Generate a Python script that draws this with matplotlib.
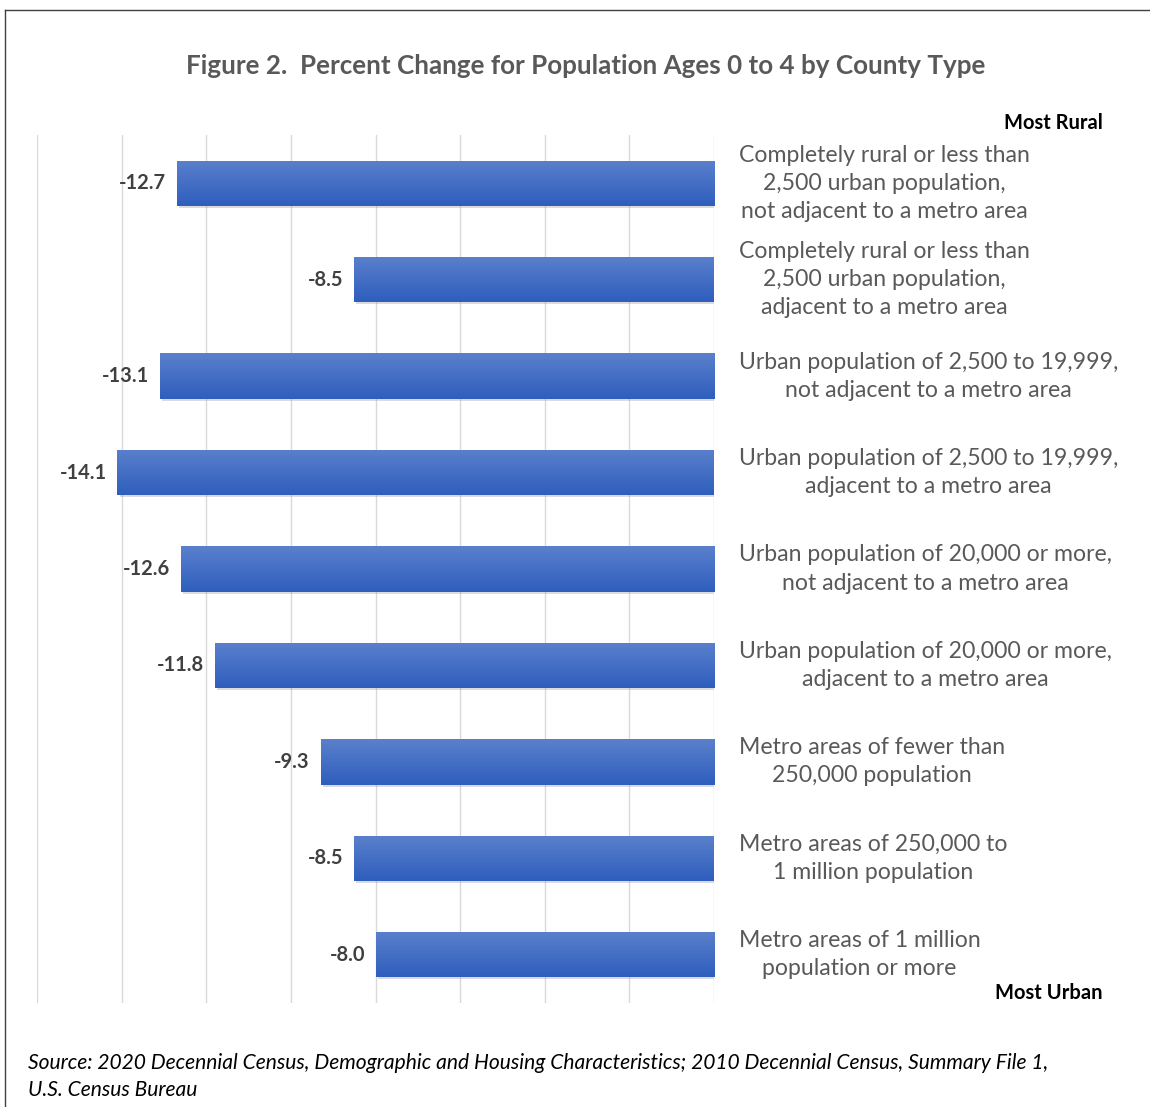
import matplotlib.pyplot as plt
import matplotlib.patheffects as pe
from matplotlib.colors import LinearSegmentedColormap
import numpy as np

# county types, most rural at top
county_types = [
    "Completely rural or less than\n2,500 urban population,\nnot adjacent to a metro area",
    "Completely rural or less than\n2,500 urban population,\nadjacent to a metro area",
    "Urban population of 2,500 to 19,999,\nnot adjacent to a metro area",
    "Urban population of 2,500 to 19,999,\nadjacent to a metro area",
    "Urban population of 20,000 or more,\nnot adjacent to a metro area",
    "Urban population of 20,000 or more,\nadjacent to a metro area",
    "Metro areas of fewer than\n250,000 population",
    "Metro areas of 250,000 to\n1 million population",
    "Metro areas of 1 million\npopulation or more",
]
pct_change = [-12.7, -8.5, -13.1, -14.1, -12.6, -11.8, -9.3, -8.5, -8.0]

plt.rcParams['font.family'] = ['Lato', 'DejaVu Sans']

fig = plt.figure(figsize=(11.5, 11.07), dpi=100)
ax = fig.add_axes([0.0322, 0.094, 0.5887, 0.784])

y_pos = np.arange(len(pct_change))
bar_height = 0.47
bars = ax.barh(y_pos, pct_change, height=bar_height, color='#3d68c4',
               zorder=3,
               path_effects=[pe.SimplePatchShadow(offset=(1.5, -1.5), shadow_rgbFace='#999999', alpha=0.35),
                             pe.Normal()])

# vertical gradient inside each bar
grad = LinearSegmentedColormap.from_list('bar', ['#5a80cc', '#2f5ebd'])
for bar in bars:
    x0, y0 = bar.get_x(), bar.get_y()
    w, h = bar.get_width(), bar.get_height()
    img = ax.imshow(np.linspace(0, 1, 50).reshape(-1, 1), cmap=grad, aspect='auto',
                    extent=(x0, x0 + w, y0 + h, y0), origin='upper', zorder=4)
    img.set_clip_path(bar)

for y, v in zip(y_pos, pct_change):
    ax.text(v - 0.25, y, f"{v:.1f}", ha='right', va='center', fontsize=14.5,
            fontweight='bold', color='#404040', zorder=5)

for y, label in zip(y_pos, county_types):
    ax.text(0.58, y, label, ha='left', va='center', multialignment='center',
            fontsize=16.6, color='#595959', linespacing=1.42, clip_on=False)

ax.set_xlim(-16, 0)
ax.set_ylim(8.5, -0.5)
ax.set_xticks(np.arange(-16, 1, 2))
ax.set_yticks([])
ax.tick_params(axis='x', length=0, labelbottom=False)
ax.grid(axis='x', color='#d9d9d9', linewidth=1, zorder=0)
for s in ax.spines.values():
    s.set_visible(False)

fig.text(0.509, 0.940, "Figure 2.  Percent Change for Population Ages 0 to 4 by County Type",
         ha='center', va='center', fontsize=18.7, fontweight='bold', color='#595959')
fig.text(0.959, 0.889, "Most Rural", ha='right', va='center', fontsize=14.5,
         fontweight='bold', color='black')
fig.text(0.959, 0.103, "Most Urban", ha='right', va='center', fontsize=14.5,
         fontweight='bold', color='black')
fig.text(0.024, 0.040, "Source: 2020 Decennial Census, Demographic and Housing Characteristics; "
         "2010 Decennial Census, Summary File 1,", ha='left', va='center', fontsize=15.1,
         style='italic', color='black')
fig.text(0.024, 0.015, "U.S. Census Bureau", ha='left', va='center', fontsize=15.1,
         style='italic', color='black')

# outer frame along the top and left
fig.add_artist(plt.Line2D([0.004, 1.0], [0.991, 0.991], color='#404040', linewidth=1))
fig.add_artist(plt.Line2D([0.004, 0.004], [0.0, 0.991], color='#404040', linewidth=1))

fig.savefig("out.png", dpi=100)
